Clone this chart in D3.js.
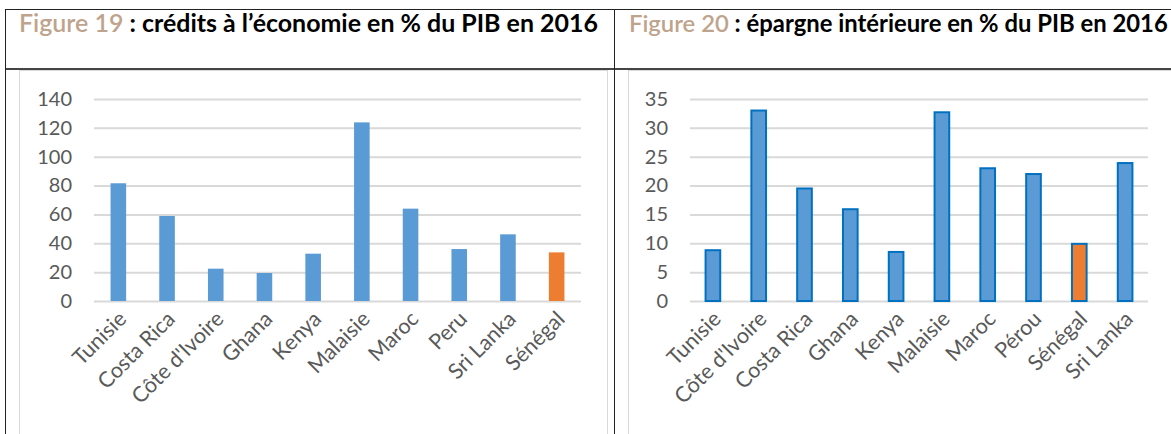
<!DOCTYPE html>
<html>
<head>
<meta charset="utf-8">
<script src="https://cdn.jsdelivr.net/npm/d3@7"></script>
<style>
  body { margin: 0; background: #fff; }
  svg { display: block; font-family: Lato, "Open Sans", sans-serif; }
</style>
</head>
<body>
<div id="chart"></div>
<script>
const W = 1171, H = 434;

// Figure 19 : crédits à l'économie en % du PIB en 2016
const credCountries = ["Tunisie", "Costa Rica", "Côte d'Ivoire", "Ghana", "Kenya", "Malaisie", "Maroc", "Peru", "Sri Lanka", "Sénégal"];
const credValues = [81.6, 58.9, 22.4, 19.4, 32.8, 123.8, 64, 36, 46.2, 33.7];
const credTicks = [0, 20, 40, 60, 80, 100, 120, 140];

// Figure 20 : épargne intérieure en % du PIB en 2016
const eparCountries = ["Tunisie", "Côte d'Ivoire", "Costa Rica", "Ghana", "Kenya", "Malaisie", "Maroc", "Pérou", "Sénégal", "Sri Lanka"];
const eparValues = [8.8, 33.0, 19.5, 15.9, 8.5, 32.7, 23.0, 22.0, 9.9, 23.9];
const eparTicks = [0, 5, 10, 15, 20, 25, 30, 35];

const highlight = "Sénégal";
const blue = "#5b9bd5", orange = "#ed7d31", outline = "#0070c0";
const tan = "#bfa48d", grey = "#595959", gridCol = "#d9d9d9";

const svg = d3.select("#chart").append("svg")
  .attr("width", W)
  .attr("height", H);

// table frame (the charts sit in a two-cell table)
const frame = svg.append("g").attr("fill", "none");
frame.append("line").attr("x1", 5).attr("x2", W).attr("y1", 9.5).attr("y2", 9.5).attr("stroke", "#222");
frame.append("line").attr("x1", 5).attr("x2", W).attr("y1", 69).attr("y2", 69).attr("stroke", "#444").attr("stroke-width", 2);
frame.append("line").attr("x1", 5.5).attr("x2", 5.5).attr("y1", 9).attr("y2", H).attr("stroke", "#222");
frame.append("line").attr("x1", 614.5).attr("x2", 614.5).attr("y1", 9).attr("y2", H).attr("stroke", "#222");
// light chart-area borders
frame.append("rect").attr("x", 19.5).attr("y", 70.5).attr("width", 588).attr("height", 400).attr("stroke", gridCol);
frame.append("rect").attr("x", 628.5).attr("y", 70.5).attr("width", 600).attr("height", 400).attr("stroke", gridCol);

function title(x, y, num, rest, targetW) {
  const t = svg.append("text")
    .attr("x", x).attr("y", y)
    .attr("font-size", 21);
  t.append("tspan").attr("fill", tan).attr("font-weight", 600).text("Figure " + num);
  t.append("tspan").attr("fill", "#000").attr("font-weight", "bold").text(" : " + rest);
  // fit to the width the title takes in the original
  const w = t.node().getComputedTextLength();
  t.attr("font-size", 21 * targetW / w);
}

title(19, 32, 19, "crédits à l’économie en % du PIB en 2016", 579);
title(629, 32, 20, "épargne intérieure en % du PIB en 2016", 539);

function barChart(opts) {
  const g = svg.append("g");

  const x = d3.scaleBand()
    .domain(opts.cats)
    .range([opts.left, opts.right])
    .paddingInner(opts.pad)
    .paddingOuter(opts.pad / 2);

  const y = d3.scaleLinear()
    .domain([0, d3.max(opts.ticks)])
    .range([301, 99]);

  // gridlines + y labels
  const yAxis = g.append("g")
    .attr("transform", `translate(${opts.left},0)`)
    .call(d3.axisLeft(y).tickValues(opts.ticks).tickSize(-(opts.right - opts.left)).tickPadding(22))
    .call(g => g.select(".domain").remove());
  yAxis.selectAll(".tick line").attr("stroke", gridCol).attr("stroke-width", 2);
  yAxis.selectAll(".tick text")
    .attr("fill", grey)
    .attr("font-family", "Lato, 'Open Sans', sans-serif")
    .attr("font-size", 20);

  g.selectAll("rect.bar")
    .data(opts.values)
    .join("rect")
      .attr("class", "bar")
      .attr("x", (d, i) => x(opts.cats[i]))
      .attr("y", d => y(d))
      .attr("width", x.bandwidth())
      .attr("height", d => y(0) - y(d))
      .attr("fill", (d, i) => opts.cats[i] === highlight ? orange : blue)
      .attr("stroke", opts.stroke || "none")
      .attr("stroke-width", opts.stroke ? 2 : 0);

  // rotated category labels
  g.selectAll("text.cat")
    .data(opts.cats)
    .join("text")
      .attr("class", "cat")
      .attr("transform", d => `translate(${x(d) + x.bandwidth() / 2 + 4},${315}) rotate(-45)`)
      .attr("text-anchor", "end")
      .attr("dy", "0.35em")
      .attr("fill", grey)
      .attr("font-size", 21.5)
      .text(d => d);
}

barChart({cats: credCountries, values: credValues, ticks: credTicks, left: 94, right: 581, pad: 0.68});
barChart({cats: eparCountries, values: eparValues, ticks: eparTicks, left: 690, right: 1148, pad: 0.68, stroke: outline});
</script>
</body>
</html>
